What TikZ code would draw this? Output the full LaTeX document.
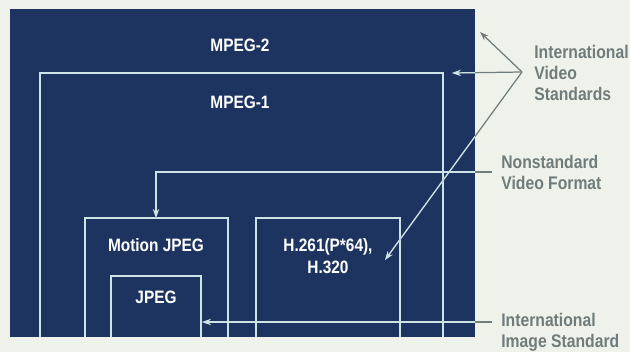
\documentclass[tikz,border=0pt]{standalone}
\usepackage{fontspec}
\setmainfont{Liberation Sans}[FakeStretch=0.86]
\usetikzlibrary{arrows.meta}

\definecolor{paper}{RGB}{238,242,234}
\definecolor{navy}{RGB}{30,52,96}
\definecolor{rule}{RGB}{205,228,230}
\definecolor{note}{RGB}{112,124,124}

\tikzset{
    stdbox/.style={draw=rule, line width=0.9pt},
    boxlabel/.style={text=white, font=\bfseries\fontsize{10.2}{12.4}\selectfont, align=center, inner sep=0pt},
    sidelabel/.style={text=note, font=\bfseries\fontsize{10.4}{12}\selectfont, align=left, anchor=west, inner sep=0pt},
    pointer/.style={draw=note, line width=0.7pt, -{Stealth[length=5pt, width=3.5pt]}},
    pointerin/.style={draw=rule, line width=0.7pt, -{Stealth[length=5pt, width=3.5pt]}}
}

\begin{document}
\begin{tikzpicture}[x=0.02cm, y=-0.02cm]
    \useasboundingbox[fill=paper] (0,0) rectangle (630,352);

    % outer field: MPEG-2
    \coordinate (top2) at (10,9);
    \coordinate (bot2) at (475,337);
    \fill[navy] (top2) rectangle (bot2);
    \node[boxlabel] (mpegtwo) at (240,45) {MPEG-2};

    % nested boxes, open at the bottom
    \draw[stdbox] (40,337) -- (40,73) coordinate (tl1) -- (443,73) coordinate (tr1) -- (443,337);
    \node[boxlabel] (mpegone) at (240,102) {MPEG-1};

    \draw[stdbox] (85,337) -- (85,218) -- (228,218) -- (228,337);
    \coordinate (mjtop) at (156,218);
    \node[boxlabel] (mjpeg) at (156,245) {Motion JPEG};

    \draw[stdbox] (111,337) -- (111,276) -- (201,276) -- (201,337);
    \coordinate (jpright) at (202,322);
    \node[boxlabel] (jpeg) at (156,297) {JPEG};

    \draw[stdbox] (256,337) -- (256,218) -- (400,218) -- (400,337);
    \node[boxlabel] (hstd) at (328,256) {H.261(P*64),\\H.320};
    \coordinate (htip) at (385,260);

    % labels at the right
    \node[sidelabel] (vidstd) at (534,73) {International\\Video\\Standards};
    \node[sidelabel] (nonstd) at (501,172.5) {Nonstandard\\Video Format};
    \node[sidelabel] (imgstd) at (501,332) {International\\Image Standard};

    \coordinate (fan) at (522,72);
    \coordinate (nsend) at (492,172);
    \coordinate (isend) at (492,322);
    \coordinate (cornertip) at (480,32);
    \coordinate (onetip) at (452,73);

    % pointers (grey on paper, light on the dark field)
    \draw[pointer] (fan) -- (cornertip);
    \draw[pointer] (fan) -- (onetip);
    \draw[pointer] (fan) -- (htip);
    \draw[pointer] (nsend) -- (nsend -| mjtop) -- (mjtop);
    \draw[pointer] (isend) -- (jpright);
    \begin{scope}
        \clip (top2) rectangle (bot2);
        \draw[pointerin] (fan) -- (onetip);
        \draw[pointerin] (fan) -- (htip);
        \draw[pointerin] (nsend) -- (nsend -| mjtop) -- (mjtop);
        \draw[pointerin] (isend) -- (jpright);
    \end{scope}
\end{tikzpicture}
\end{document}
